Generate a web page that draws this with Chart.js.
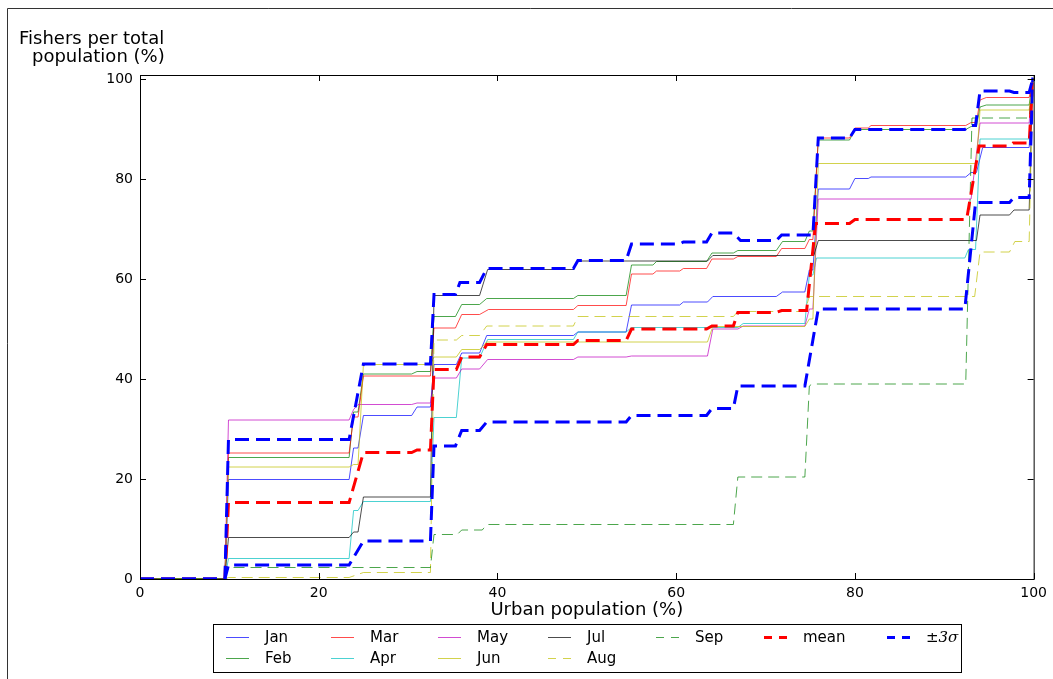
<!DOCTYPE html>
<html>
<head>
<meta charset="utf-8">
<script src="https://cdn.jsdelivr.net/npm/chart.js@4.4.1/dist/chart.umd.min.js"></script>
<style>
  html, body { margin: 0; padding: 0; background: #fff; }
  #wrap { width: 1053px; height: 679px; position: relative; overflow: hidden; }
</style>
</head>
<body>
<div id="wrap"><canvas id="fishers" width="1053" height="679"></canvas></div>
<script>
// tick labels
const xTicks = [0, 20, 40, 60, 80, 100];
const yTicks = [0, 20, 40, 60, 80, 100];

// [urban population %, fishers %]
const janPts = [[0,0],[9.5,0],[9.9,19.9],[23.4,19.9],[23.9,26.2],[24.4,26.2],[25.0,32.7],[30.4,32.7],[31.0,34.4],[32.5,34.4],[32.9,42.9],[35.4,42.9],[36.0,45.2],[38.0,45.2],[38.8,48.7],[48.5,48.7],[49.0,49.4],[54.4,49.4],[55.0,54.8],[60.4,54.8],[60.8,55.4],[63.5,55.4],[64.1,56.5],[71.2,56.5],[71.9,57.4],[74.4,57.4],[74.9,61.8],[75.3,61.8],[75.9,78.0],[79.4,78.0],[80.0,80.1],[81.5,80.1],[81.8,80.4],[92.4,80.4],[93.0,81.3],[93.6,81.3],[94.3,86.3],[99.5,86.3],[99.9,100],[100,100]];
const febPts = [[0,0],[9.5,0],[9.9,24.3],[23.4,24.3],[23.9,33.4],[24.4,33.4],[25.0,41.0],[30.4,41.0],[31.0,41.5],[32.5,41.5],[32.9,52.5],[35.3,52.5],[36.0,54.9],[38.0,54.9],[38.8,56.1],[48.5,56.1],[49.0,56.7],[54.4,56.7],[55.0,62.8],[57.4,62.8],[57.8,63.5],[63.4,63.5],[64.0,65.2],[66.4,65.2],[66.9,65.7],[71.2,65.7],[71.9,67.5],[74.4,67.5],[74.9,69.6],[75.3,69.6],[75.9,87.8],[79.4,87.8],[80.0,89.9],[92.4,89.9],[93.0,90.5],[93.6,90.5],[94.0,94.4],[94.7,94.8],[99.5,94.8],[99.9,100],[100,100]];
const marPts = [[0,0],[9.5,0],[9.9,25.2],[23.4,25.2],[23.9,32.4],[24.4,32.4],[25.0,40.6],[32.5,40.6],[32.9,50.2],[35.3,50.2],[36.0,52.9],[38.0,52.9],[39.0,53.9],[48.5,53.9],[49.0,54.7],[54.4,54.7],[55.0,61.0],[57.4,61.0],[57.8,61.6],[60.4,61.6],[60.8,62.1],[63.4,62.1],[64.0,64.0],[66.4,64.0],[66.9,64.5],[71.2,64.5],[71.8,66.1],[74.4,66.1],[74.9,67.9],[75.3,67.9],[75.9,88.2],[79.4,88.2],[80.0,90.2],[81.5,90.2],[81.8,90.7],[92.4,90.7],[93.0,91.3],[93.6,91.3],[94.0,95.8],[94.7,96.3],[99.5,96.3],[99.9,100],[100,100]];
const aprPts = [[0,0],[9.5,0],[9.9,4.1],[23.4,4.1],[23.9,13.7],[24.4,13.7],[25.0,15.5],[32.5,15.5],[32.9,32.3],[35.4,32.3],[36.0,44.2],[38.0,44.2],[38.9,47.9],[48.5,47.9],[49.0,49.4],[54.4,49.4],[55.0,50.3],[66.9,50.3],[67.5,51.1],[74.4,51.1],[74.9,60.8],[75.3,60.8],[75.7,64.2],[92.3,64.2],[92.7,65.9],[93.5,65.9],[94.0,88.0],[99.5,88.0],[99.9,100],[100,100]];
const mayPts = [[0,0],[9.5,0],[9.9,31.8],[23.4,31.8],[23.9,33.9],[24.4,34.9],[30.4,34.9],[31.0,35.2],[32.5,35.2],[32.9,40.2],[35.4,40.2],[36.0,42.0],[38.0,42.0],[38.9,43.9],[48.5,43.9],[49.0,44.4],[54.4,44.4],[55.0,44.6],[63.5,44.6],[64.1,50.0],[66.9,50.0],[67.5,50.6],[74.4,50.6],[74.9,54.0],[75.3,54.0],[75.9,76.0],[93.0,76.0],[94.0,91.2],[99.5,91.2],[99.9,100],[100,100]];
const junPts = [[0,0],[9.5,0],[9.9,22.4],[23.4,22.4],[23.9,22.9],[24.4,22.9],[25.0,42.9],[32.5,42.9],[32.9,44.4],[35.4,44.4],[36.0,45.9],[38.0,45.9],[38.8,47.4],[63.5,47.4],[64.1,50.5],[74.4,50.5],[74.9,52.0],[75.3,52.0],[75.9,83.1],[93.6,83.1],[94.0,93.8],[99.5,93.8],[99.9,100],[100,100]];
const julPts = [[0,0],[9.5,0],[9.9,8.3],[23.4,8.3],[23.9,9.4],[24.4,9.4],[25.0,16.4],[32.5,16.4],[32.9,56.7],[38.0,56.7],[38.9,61.9],[48.5,61.9],[49.0,63.6],[63.5,63.6],[64.1,64.7],[75.4,64.7],[75.9,67.7],[93.6,67.7],[94.0,72.8],[97.3,72.8],[97.8,73.8],[99.5,73.8],[99.9,100],[100,100]];
const augPts = [[0,0],[9.5,0],[9.9,0.3],[23.4,0.3],[25.0,1.3],[32.5,1.3],[32.9,47.8],[35.4,47.8],[36.0,48.7],[38.0,48.7],[38.8,50.6],[48.5,50.6],[49.0,52.5],[66.4,52.5],[66.9,53.5],[74.4,53.5],[74.9,56.5],[93.4,56.5],[94.0,65.4],[97.3,65.4],[97.9,67.5],[99.5,67.5],[99.9,100],[100,100]];
const sepPts = [[0,0],[9.5,0],[9.9,2.3],[32.5,2.3],[32.9,8.9],[35.5,8.9],[36.0,9.8],[38.3,9.8],[38.8,10.9],[66.4,10.9],[66.9,20.4],[74.4,20.4],[74.9,38.6],[75.2,39.0],[92.4,39.0],[93.1,92.2],[99.5,92.2],[99.9,100],[100,100]];
const meanPts = [[0,0],[9.5,0],[9.9,15.3],[23.4,15.3],[25.0,25.3],[30.4,25.3],[31.0,25.8],[32.5,25.8],[32.9,41.9],[35.4,41.9],[36.0,44.4],[38.0,44.4],[38.8,46.9],[48.5,46.9],[49.0,47.7],[54.4,47.7],[55.0,50.0],[63.4,50.0],[64.0,50.6],[66.4,50.6],[66.9,53.3],[71.2,53.3],[71.8,53.7],[74.6,53.7],[75.6,71.1],[79.4,71.1],[80.0,71.9],[92.5,71.9],[93.9,86.6],[97.3,86.6],[97.7,87.2],[99.5,87.2],[99.9,100],[100,100]];
const upperPts = [[0,0],[9.5,0],[9.9,27.9],[23.4,27.9],[25.0,43.0],[32.5,43.0],[32.9,56.9],[35.3,56.9],[35.8,59.3],[38.0,59.3],[38.8,62.1],[48.5,62.1],[49.0,63.7],[54.4,63.7],[55.0,67.0],[60.4,67.0],[60.8,67.4],[63.4,67.4],[64.0,69.2],[66.4,69.2],[67.2,67.7],[71.2,67.7],[71.8,68.8],[75.3,68.8],[75.9,88.2],[79.4,88.2],[80.0,89.9],[92.3,89.9],[92.9,90.7],[93.5,90.7],[94.0,97.6],[97.3,97.6],[97.8,97.3],[99.5,97.3],[99.9,100],[100,100]];
const lowerPts = [[0,0],[9.5,0],[9.9,2.8],[23.4,2.8],[25.0,7.6],[32.5,7.6],[32.9,26.6],[35.3,26.6],[36.0,29.7],[38.0,29.7],[38.8,31.4],[54.4,31.4],[55.0,32.7],[63.4,32.7],[64.0,34.1],[66.4,34.1],[66.9,38.6],[74.4,38.6],[75.9,54.0],[92.3,54.0],[93.5,75.3],[97.3,75.3],[97.8,76.3],[99.5,76.3],[99.9,100],[100,100]];

const legendNames = ["Jan", "Feb", "Mar", "Apr", "May", "Jun", "Jul", "Aug", "Sep", "mean", "±3σ"];

const series = [
    { name: "Jan", pts: janPts, color: "rgba(0,0,255,0.7)", width: 1, dash: [] },
    { name: "Feb", pts: febPts, color: "rgba(0,128,0,0.7)", width: 1, dash: [] },
    { name: "Mar", pts: marPts, color: "rgba(255,0,0,0.7)", width: 1, dash: [] },
    { name: "Apr", pts: aprPts, color: "rgba(0,191,191,0.7)", width: 1, dash: [] },
    { name: "May", pts: mayPts, color: "rgba(191,0,191,0.7)", width: 1, dash: [] },
    { name: "Jun", pts: junPts, color: "rgba(191,191,0,0.7)", width: 1, dash: [] },
    { name: "Jul", pts: julPts, color: "rgba(0,0,0,0.7)", width: 1, dash: [] },
    { name: "Aug", pts: augPts, color: "rgba(191,191,0,0.7)", width: 1, dash: [11, 6] },
    { name: "Sep", pts: sepPts, color: "rgba(0,128,0,0.7)", width: 1, dash: [11, 6] },
    { name: "mean", pts: meanPts, color: "#ff0000", width: 3, dash: [14, 7] },
    { name: "±3σ", pts: upperPts, color: "#0000ff", width: 3, dash: [14, 7] },
    { name: "±3σ", pts: lowerPts, color: "#0000ff", width: 3, dash: [14, 7] }
];

const FONT = "'DejaVu Sans', sans-serif";

// matplotlib style: inward ticks on all four sides, frame, axis label, legend
const figureDecor = {
    id: "figureDecor",
    afterDraw(chart) {
        const { ctx, chartArea: a, scales } = chart;
        ctx.save();

        // figure outline
        ctx.strokeStyle = "#333";
        ctx.lineWidth = 1;
        ctx.beginPath();
        ctx.moveTo(7.5, 679);
        ctx.lineTo(7.5, 8.5);
        ctx.lineTo(1053, 8.5);
        ctx.stroke();

        // axes frame
        ctx.strokeStyle = "#000";
        ctx.strokeRect(a.left + 0.5, a.top + 0.5, a.right - a.left, a.bottom - a.top);

        const tl = 6;
        ctx.beginPath();
        xTicks.forEach(v => {
            const px = Math.round(scales.x.getPixelForValue(v)) + 0.5;
            ctx.moveTo(px, a.bottom);
            ctx.lineTo(px, a.bottom - tl);
            ctx.moveTo(px, a.top);
            ctx.lineTo(px, a.top + tl);
        });
        yTicks.forEach(v => {
            const py = Math.round(scales.y.getPixelForValue(v)) + 0.5;
            ctx.moveTo(a.left, py);
            ctx.lineTo(a.left + tl, py);
            ctx.moveTo(a.right, py);
            ctx.lineTo(a.right - tl, py);
        });
        ctx.stroke();

        // y label, horizontal at top left
        ctx.fillStyle = "#000";
        ctx.font = "18px " + FONT;
        ctx.textAlign = "left";
        ctx.textBaseline = "alphabetic";
        ctx.fillText("Fishers per total", 19, 43.5);
        ctx.fillText("population (%)", 32, 61.5);

        // legend
        const box = { left: 213, top: 624, right: 961, bottom: 672 };
        ctx.fillStyle = "#fff";
        ctx.fillRect(box.left, box.top, box.right - box.left, box.bottom - box.top);
        ctx.strokeStyle = "#000";
        ctx.strokeRect(box.left + 0.5, box.top + 0.5, box.right - box.left, box.bottom - box.top);

        const colX = [226, 331, 438, 548, 656, 764, 887];
        const rowY = [637, 658];
        const ncol = 7;
        const nrows = Math.ceil(legendNames.length / ncol);
        const nLarge = legendNames.length % ncol || ncol;
        let idx = 0;
        for (let c = 0; c < ncol; c++) {
            const rows = c < nLarge ? nrows : nrows - 1;
            for (let r = 0; r < rows; r++, idx++) {
                const name = legendNames[idx];
                const s = series.find(d => d.name === name);
                const y = rowY[r];
                ctx.save();
                ctx.strokeStyle = s.color;
                ctx.lineWidth = s.width;
                ctx.setLineDash(s.dash.length ? (s.width > 1 ? [8, 7] : [8, 7]) : []);
                ctx.beginPath();
                ctx.moveTo(colX[c], y + 0.5);
                ctx.lineTo(colX[c] + 23, y + 0.5);
                ctx.stroke();
                ctx.restore();

                ctx.fillStyle = "#000";
                ctx.textBaseline = "middle";
                ctx.font = name === "±3σ" ? "italic 15px 'DejaVu Serif', serif" : "15px " + FONT;
                ctx.fillText(name, colX[c] + 39, y + 1);
            }
        }
        ctx.restore();
    }
};

Chart.defaults.font.family = FONT;
Chart.defaults.color = "#000";

new Chart(document.getElementById("fishers"), {
    type: "line",
    data: {
        datasets: series.map((s, i) => ({
            label: s.name,
            data: s.pts.map(([x, y]) => ({ x, y })),
            borderColor: s.color,
            borderWidth: s.width,
            borderDash: s.dash,
            pointRadius: 0,
            fill: false,
            tension: 0,
            order: s.width > 1 ? (s.name === "mean" ? 2 : 1) : 3 + (series.length - i)
        }))
    },
    options: {
        responsive: false,
        animation: false,
        devicePixelRatio: 1,
        layout: { padding: { left: 0, top: 75, right: 19, bottom: 55 } },
        plugins: {
            legend: { display: false },
            tooltip: { enabled: false }
        },
        scales: {
            x: {
                type: "linear",
                min: 0,
                max: 100,
                grid: { display: false, drawTicks: false },
                border: { display: false },
                afterBuildTicks: scale => { scale.ticks = xTicks.map(v => ({ value: v })); },
                afterFit: scale => { scale.height = 45; },
                ticks: { font: { size: 14 }, padding: 6, maxRotation: 0 },
                title: {
                    display: true,
                    text: "Urban population (%)",
                    font: { size: 18, lineHeight: 1 },
                    padding: { top: 0, bottom: 5 }
                }
            },
            y: {
                min: 0,
                max: 100.8,
                grid: { display: false, drawTicks: false },
                border: { display: false },
                afterBuildTicks: scale => { scale.ticks = yTicks.map(v => ({ value: v })); },
                afterFit: scale => { scale.width = 140; },
                ticks: { font: { size: 14 }, padding: 7 }
            }
        }
    },
    plugins: [figureDecor]
});
</script>
</body>
</html>
